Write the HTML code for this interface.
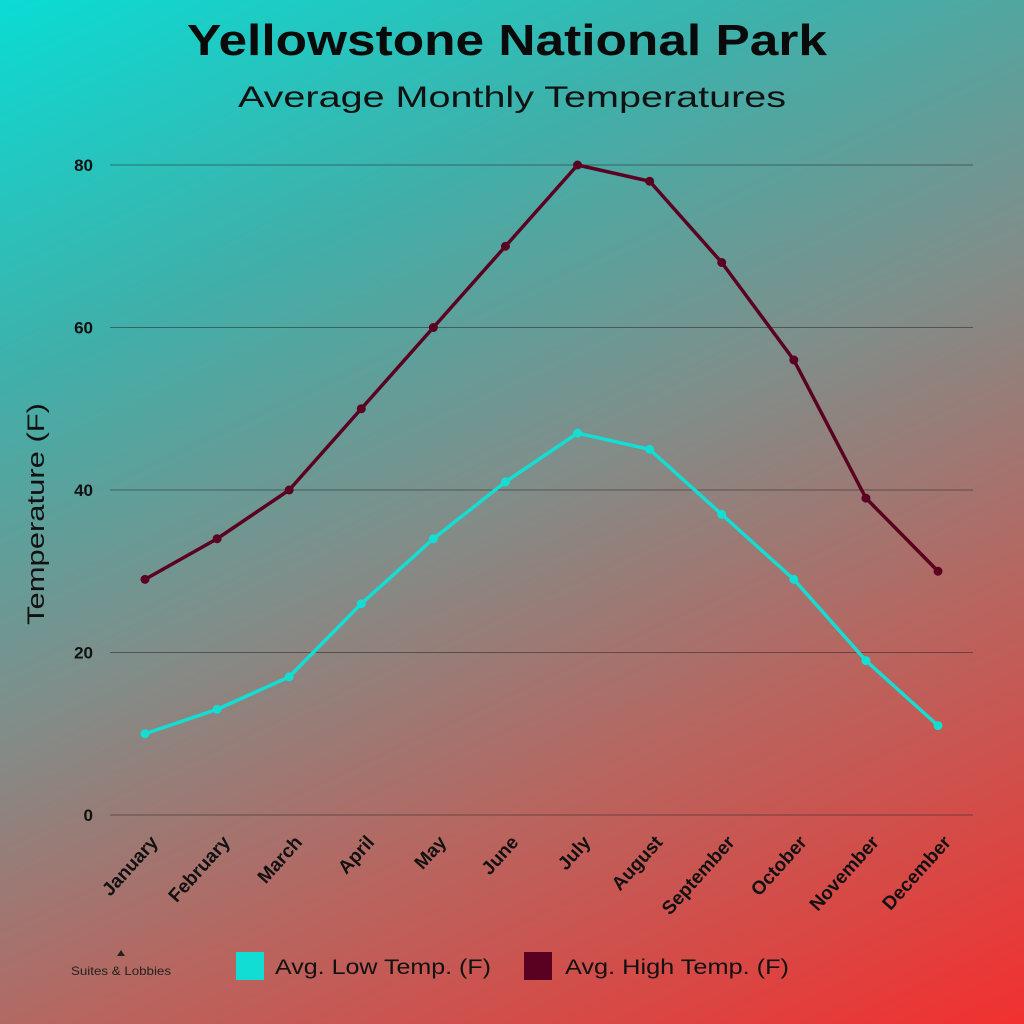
<!DOCTYPE html>
<html><head><meta charset="utf-8"><style>
body{margin:0;width:1024px;height:1024px;overflow:hidden;font-family:"Liberation Sans",sans-serif}
#bg{position:absolute;left:0;top:0;width:1024px;height:1024px;background:linear-gradient(155deg,#0adcd4 0%,#3fb0aa 25%,#7f8e8a 48%,#b76660 70%,#f2302f 100%)}
</style></head><body>
<div id="bg"></div>
<svg width="1024" height="1024" style="position:absolute;left:0;top:0" id="chart">
<text x="187" y="55" textLength="640" lengthAdjust="spacingAndGlyphs" font-size="44" font-weight="bold" fill="#0a0a0a">Yellowstone National Park</text>
<text x="238" y="107" textLength="548" lengthAdjust="spacingAndGlyphs" font-size="30" fill="#111">Average Monthly Temperatures</text>
<text transform="translate(44,625) rotate(-90)" textLength="222" lengthAdjust="spacingAndGlyphs" font-size="24" fill="#111">Temperature (F)</text>
<g id="grid"></g><g id="xl"></g><g id="series"></g>
<g>
<rect x="236" y="952" width="28" height="28" fill="#12ddd4"/>
<text x="275" y="974" textLength="216" lengthAdjust="spacingAndGlyphs" font-size="21" fill="#111">Avg. Low Temp. (F)</text>
<rect x="524" y="952" width="28" height="28" fill="#5a0020"/>
<text x="565" y="974" textLength="224" lengthAdjust="spacingAndGlyphs" font-size="21" fill="#111">Avg. High Temp. (F)</text>
</g>
<g>
<path d="M117 956 l4 -6 l4 6 z" fill="#222"/>
<text x="71" y="975" textLength="100" lengthAdjust="spacingAndGlyphs" font-size="12" fill="#222">Suites &amp; Lobbies</text>
</g>
</svg>
<script>
const months=["January","February","March","April","May","June","July","August","September","October","November","December"];
const highTemps=[29,34,40,50,60,70,80,78,68,56,39,30];
const lowTemps=[10,13,17,26,34,41,47,45,37,29,19,11];
const yTicks=[0,20,40,60,80];
const NS="http://www.w3.org/2000/svg";
const x=i=>145+i*(938-145)/11;
const y=v=>815-v*(815-165)/80;
function mk(t,a,p){const e=document.createElementNS(NS,t);for(const k in a)e.setAttribute(k,a[k]);p.appendChild(e);return e;}
const grid=document.getElementById('grid');
yTicks.forEach(t=>{
 const l=mk('line',{x1:110,x2:973,y1:y(t),y2:y(t),stroke:"rgba(40,40,40,0.55)","stroke-width":1},grid);
 
 
 const tx=mk('text',{x:93,y:y(t)+6,"text-anchor":"end","font-size":17,"font-weight":"bold",fill:"#111"},grid);
 tx.textContent=t;
 
 
});
const xl=document.getElementById('xl');
months.forEach((m,i)=>{
 const tx=mk('text',{transform:`translate(${x(i)+14},${843}) rotate(-48)`,"text-anchor":"end","font-size":19,"font-weight":"bold",fill:"#111"},xl);
 tx.textContent=m;
 
 
});
const sg=document.getElementById('series');
[[lowTemps,"#14ddd4","low"],[highTemps,"#5a0020","high"]].forEach(([d,c,n])=>{
 const p=mk('polyline',{points:d.map((v,i)=>x(i)+","+y(v)).join(" "),fill:"none",stroke:c,"stroke-width":3.5,"stroke-linejoin":"round"},sg);
 
 
 d.forEach((v,i)=>{
  const ci=mk('circle',{cx:x(i),cy:y(v),r:4.5,fill:c},sg);
  
  
 });
});
</script>
</body></html>
